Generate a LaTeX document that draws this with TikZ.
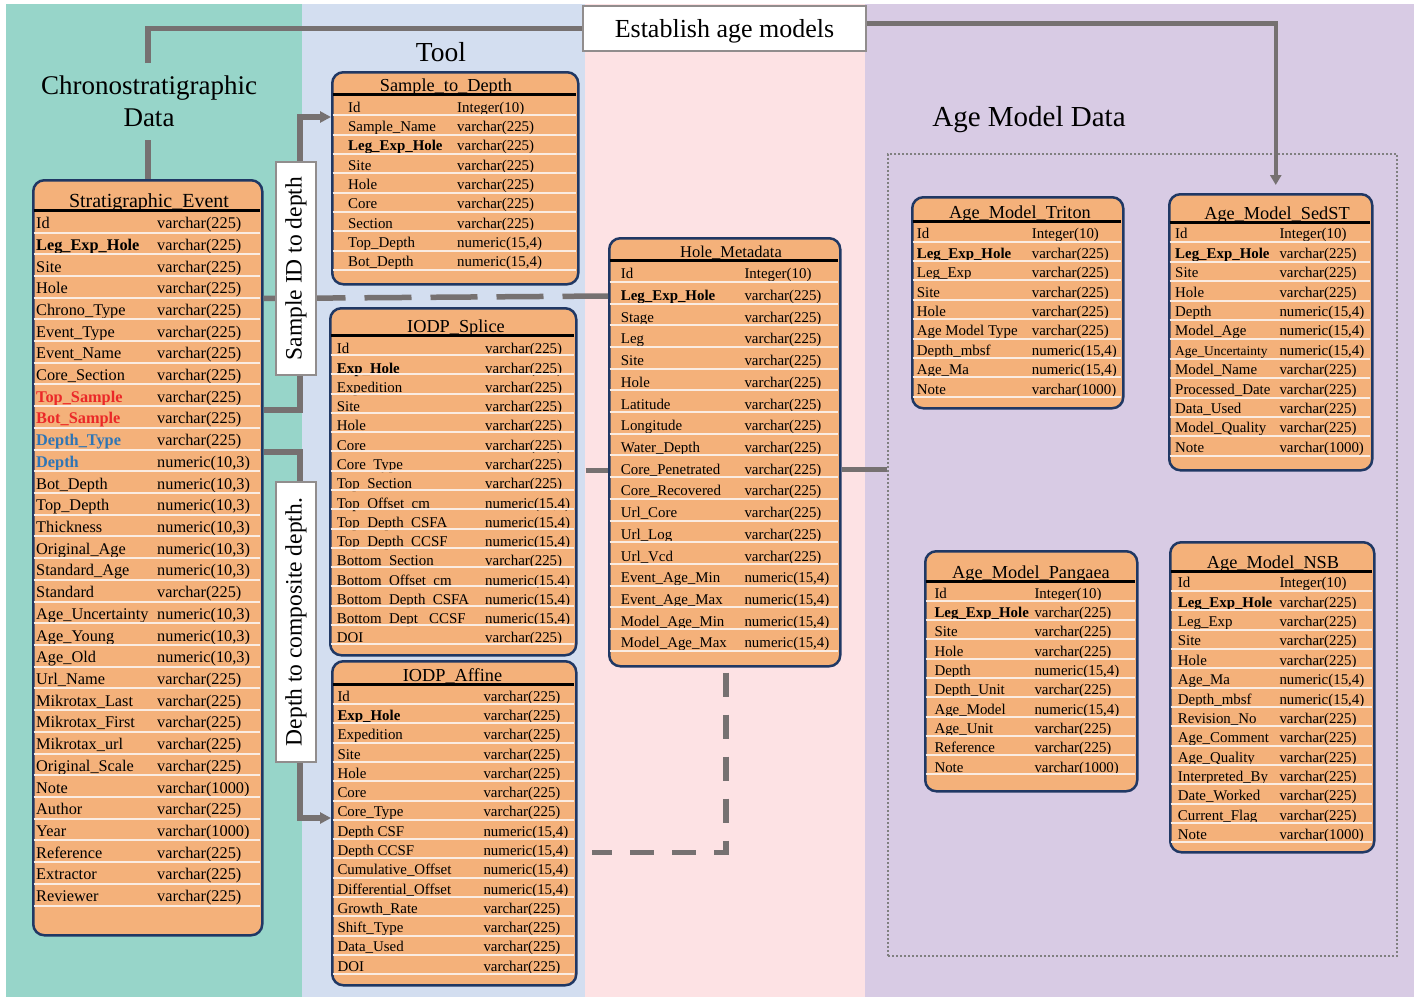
\documentclass[tikz,border=0pt]{standalone}
\usepackage{fontspec}
\setmainfont{Liberation Serif}
\usetikzlibrary{arrows.meta,calc}
\definecolor{teal1}{RGB}{151,213,201}
\definecolor{blue1}{RGB}{211,222,240}
\definecolor{pink1}{RGB}{253,226,228}
\definecolor{purp1}{RGB}{216,203,228}
\definecolor{orfill}{RGB}{244,177,122}
\definecolor{navy}{RGB}{32,56,100}
\definecolor{conng}{RGB}{118,113,113}
\definecolor{sepc}{RGB}{250,236,226}
\definecolor{redt}{RGB}{235,40,40}
\definecolor{bluet}{RGB}{46,117,182}
\newcommand\fs[1]{\fontsize{#1}{#1}\selectfont}
\def\Rf{\fs{15}}
\tikzset{
 tbl/.style={draw=navy, line width=2.5pt, fill=orfill, rounded corners=11pt, inner sep=0pt, anchor=north west},
 ttl/.style={anchor=base, inner sep=0pt},
 hdr/.style={line width=3pt, black},
 sepline/.style={line width=2pt, sepc},
 cell/.style={anchor=mid west, inner sep=0pt, font=\Rf},
 conn/.style={line width=5.5pt, conng},
 lbl/.style={draw=conng!80, line width=1.5pt, fill=white, inner sep=0pt, font=\fs{23.5}},
 tip/.style={-{Triangle[length=11pt,width=11pt]}},
}
\newcommand\tabrows[2]{%
 \foreach \na/\ty [count=\i from 0] in {#2}{%
  \pgfmathsetmacro\yy{\Ry+\i*\Rs+3.3}%
  \pgfmathsetmacro\ys{\Ry+\i*\Rs+\Ro}%
  \node[cell] (#1-n\i) at (\Nx,\yy) {\na};
  \node[cell] (#1-t\i) at (\Tx,\yy) {\ty};
  \draw[sepline] (\Lx,\ys) -- (\Rx,\ys);
 }}
\begin{document}
\begin{tikzpicture}[x=1pt,y=-1pt]
\useasboundingbox (0,0) rectangle (1420,998);
\fill[white] (0,0) rectangle (1420,998);
% panels
\fill[teal1] (6,4) rectangle (302,997);
\fill[blue1] (302,4) rectangle (585,997);
\fill[pink1] (585,4) rectangle (865,997);
\fill[purp1] (865,4) rectangle (1414,997);
% dotted frame
\node[draw=gray, line width=2pt, dash pattern=on 2pt off 2pt, minimum width=509pt, minimum height=802pt, anchor=north west, inner sep=0pt] (amd) at (887,153) {};

% ---------- Stratigraphic_Event
\node[tbl, minimum width=229pt, minimum height=755pt] (strat) at (32,179) {};
\def\Nx{36}\def\Tx{157}\def\Ry{223}\def\Rs{21.71}\def\Ro{9.5}\def\Lx{33.5}\def\Rx{259.5}\def\Rf{\fs{16.3}}
\tabrows{se}{{Id}/{varchar(225)},{\textbf{Leg\_Exp\_Hole}}/{varchar(225)},{Site}/{varchar(225)},{Hole}/{varchar(225)},{Chrono\_Type}/{varchar(225)},{Event\_Type}/{varchar(225)},{Event\_Name}/{varchar(225)},{Core\_Section}/{varchar(225)},{\textcolor{redt}{\textbf{Top\_Sample}}}/{varchar(225)},{\textcolor{redt}{\textbf{Bot\_Sample}}}/{varchar(225)},{\textcolor{bluet}{\textbf{Depth\_Type}}}/{varchar(225)},{\textcolor{bluet}{\textbf{Depth}}}/{numeric(10,3)},{Bot\_Depth}/{numeric(10,3)},{Top\_Depth}/{numeric(10,3)},{Thickness}/{numeric(10,3)},{Original\_Age}/{numeric(10,3)},{Standard\_Age}/{numeric(10,3)},{Standard}/{varchar(225)},{Age\_Uncertainty}/{numeric(10,3)},{Age\_Young}/{numeric(10,3)},{Age\_Old}/{numeric(10,3)},{Url\_Name}/{varchar(225)},{Mikrotax\_Last}/{varchar(225)},{Mikrotax\_First}/{varchar(225)},{Mikrotax\_url}/{varchar(225)},{Original\_Scale}/{varchar(225)},{Note}/{varchar(1000)},{Author}/{varchar(225)},{Year}/{varchar(1000)},{Reference}/{varchar(225)},{Extractor}/{varchar(225)},{Reviewer}/{varchar(225)}}
\node[ttl, font=\fs{20}] (se-title) at (149,207.5) {Stratigraphic\_Event};
\draw[hdr] (33.5,210) -- (259.5,210);

% ---------- Sample_to_Depth
\node[tbl, minimum width=246pt, minimum height=212pt] (std) at (331,71) {};
\def\Nx{348}\def\Tx{457}\def\Ry{106.7}\def\Rs{19.33}\def\Ro{8.7}\def\Lx{332.5}\def\Rx{575.5}\def\Rf{\fs{14.9}}
\tabrows{sd}{{Id}/{Integer(10)},{Sample\_Name}/{varchar(225)},{\textbf{Leg\_Exp\_Hole}}/{varchar(225)},{Site}/{varchar(225)},{Hole}/{varchar(225)},{Core}/{varchar(225)},{Section}/{varchar(225)},{Top\_Depth}/{numeric(15,4)},{Bot\_Depth}/{numeric(15,4)}}
\node[ttl, font=\fs{18.3}] (sd-title) at (446,91.5) {Sample\_to\_Depth};
\draw[hdr] (332.5,94.3) -- (575.5,94.3);

% ---------- IODP_Splice
\node[tbl, minimum width=246pt, minimum height=347pt] (splice) at (329,307) {};
\def\Nx{336.7}\def\Tx{485}\def\Ry{348.3}\def\Rs{19.27}\def\Ro{6.8}\def\Lx{330.5}\def\Rx{573.5}\def\Rf{\fs{14.9}}
\tabrows{sp}{{Id}/{varchar(225)},{\textbf{Exp\_Hole}}/{varchar(225)},{Expedition}/{varchar(225)},{Site}/{varchar(225)},{Hole}/{varchar(225)},{Core}/{varchar(225)},{Core\_Type}/{varchar(225)},{Top\_Section}/{varchar(225)},{Top\_Offset\_cm}/{numeric(15,4)},{Top\_Depth\_CSFA}/{numeric(15,4)},{Top\_Depth\_CCSF}/{numeric(15,4)},{Bottom\_Section}/{varchar(225)},{Bottom\_Offset\_cm}/{numeric(15,4)},{Bottom\_Depth\_CSFA}/{numeric(15,4)},{Bottom\_Dept\_ CCSF}/{numeric(15,4)},{DOI}/{varchar(225)}}
\node[ttl, font=\fs{18.3}] (sp-title) at (456,332) {IODP\_Splice};
\draw[hdr] (330.5,335) -- (573.5,335);

% ---------- IODP_Affine
\node[tbl, minimum width=244pt, minimum height=324pt] (aff) at (331,660) {};
\def\Nx{337.3}\def\Tx{483.3}\def\Ry{695.7}\def\Rs{19.28}\def\Ro{8.5}\def\Lx{332.5}\def\Rx{573.5}\def\Rf{\fs{14.9}}
\tabrows{af}{{Id}/{varchar(225)},{\textbf{Exp\_Hole}}/{varchar(225)},{Expedition}/{varchar(225)},{Site}/{varchar(225)},{Hole}/{varchar(225)},{Core}/{varchar(225)},{Core\_Type}/{varchar(225)},{Depth CSF}/{numeric(15,4)},{Depth CCSF}/{numeric(15,4)},{Cumulative\_Offset}/{numeric(15,4)},{Differential\_Offset}/{numeric(15,4)},{Growth\_Rate}/{varchar(225)},{Shift\_Type}/{varchar(225)},{Data\_Used}/{varchar(225)},{DOI}/{varchar(225)}}
\node[ttl, font=\fs{18.3}] (af-title) at (452.5,681.3) {IODP\_Affine};
\draw[hdr] (332.5,684.3) -- (573.5,684.3);

% ---------- Hole_Metadata
\node[tbl, minimum width=231pt, minimum height=428pt] (hole) at (608,237) {};
\def\Nx{620.7}\def\Tx{744.3}\def\Ry{273.3}\def\Rs{21.7}\def\Ro{8.5}\def\Lx{609.5}\def\Rx{837.5}\def\Rf{\fs{14.9}}
\tabrows{hm}{{Id}/{Integer(10)},{\textbf{Leg\_Exp\_Hole}}/{varchar(225)},{Stage}/{varchar(225)},{Leg}/{varchar(225)},{Site}/{varchar(225)},{Hole}/{varchar(225)},{Latitude}/{varchar(225)},{Longitude}/{varchar(225)},{Water\_Depth}/{varchar(225)},{Core\_Penetrated}/{varchar(225)},{Core\_Recovered}/{varchar(225)},{Url\_Core}/{varchar(225)},{Url\_Log}/{varchar(225)},{Url\_Vcd}/{varchar(225)},{Event\_Age\_Min}/{numeric(15,4)},{Event\_Age\_Max}/{numeric(15,4)},{Model\_Age\_Min}/{numeric(15,4)},{Model\_Age\_Max}/{numeric(15,4)}}
\node[ttl, font=\fs{16.5}] (hm-title) at (731,257) {Hole\_Metadata};
\draw[hdr] (609.5,260) -- (837.5,260);

% ---------- Age_Model_Triton
\node[tbl, minimum width=211pt, minimum height=211pt] (triton) at (911,196) {};
\def\Nx{916.7}\def\Tx{1031.7}\def\Ry{233.3}\def\Rs{19.4}\def\Ro{8.3}\def\Lx{912.5}\def\Rx{1120.5}\def\Rf{\fs{14.9}}
\tabrows{tr}{{Id}/{Integer(10)},{\textbf{Leg\_Exp\_Hole}}/{varchar(225)},{Leg\_Exp}/{varchar(225)},{Site}/{varchar(225)},{Hole}/{varchar(225)},{Age Model Type}/{varchar(225)},{Depth\_mbsf}/{numeric(15,4)},{Age\_Ma}/{numeric(15,4)},{Note}/{varchar(1000)}}
\node[ttl, font=\fs{18.3}] (tr-title) at (1020,218.7) {Age\_Model\_Triton};
\draw[hdr] (912.5,221.7) -- (1120.5,221.7);

% ---------- Age_Model_SedST
\node[tbl, minimum width=203pt, minimum height=276pt] (sedst) at (1168,193) {};
\def\Nx{1175}\def\Tx{1279.3}\def\Ry{233.3}\def\Rs{19.4}\def\Ro{9}\def\Lx{1169.5}\def\Rx{1369.5}\def\Rf{\fs{14.9}}
\tabrows{ss}{{Id}/{Integer(10)},{\textbf{Leg\_Exp\_Hole}}/{varchar(225)},{Site}/{varchar(225)},{Hole}/{varchar(225)},{Depth}/{numeric(15,4)},{Model\_Age}/{numeric(15,4)},{\fs{13.4}Age\_Uncertainty}/{numeric(15,4)},{Model\_Name}/{varchar(225)},{Processed\_Date}/{varchar(225)},{Data\_Used}/{varchar(225)},{Model\_Quality}/{varchar(225)},{Note}/{varchar(1000)}}
\node[ttl, font=\fs{18.3}] (ss-title) at (1277,219.7) {Age\_Model\_SedST};
\draw[hdr] (1169.5,222.7) -- (1369.5,222.7);

% ---------- Age_Model_Pangaea
\node[tbl, minimum width=212pt, minimum height=240pt] (pang) at (924,550) {};
\def\Nx{934.3}\def\Tx{1034.3}\def\Ry{592.7}\def\Rs{19.3}\def\Ro{8}\def\Lx{925.5}\def\Rx{1134.5}\def\Rf{\fs{14.9}}
\tabrows{pg}{{Id}/{Integer(10)},{\textbf{Leg\_Exp\_Hole}}/{varchar(225)},{Site}/{varchar(225)},{Hole}/{varchar(225)},{Depth}/{numeric(15,4)},{Depth\_Unit}/{varchar(225)},{Age\_Model}/{numeric(15,4)},{Age\_Unit}/{varchar(225)},{Reference}/{varchar(225)},{Note}/{varchar(1000)}}
\node[ttl, font=\fs{18.3}] (pg-title) at (1031,578) {Age\_Model\_Pangaea};
\draw[hdr] (925.5,581) -- (1134.5,581);

% ---------- Age_Model_NSB
\node[tbl, minimum width=204pt, minimum height=310pt] (nsb) at (1169,541) {};
\def\Nx{1177.7}\def\Tx{1279.3}\def\Ry{582.3}\def\Rs{19.36}\def\Ro{8.5}\def\Lx{1170.5}\def\Rx{1371.5}\def\Rf{\fs{14.9}}
\tabrows{ns}{{Id}/{Integer(10)},{\textbf{Leg\_Exp\_Hole}}/{varchar(225)},{Leg\_Exp}/{varchar(225)},{Site}/{varchar(225)},{Hole}/{varchar(225)},{Age\_Ma}/{numeric(15,4)},{Depth\_mbsf}/{numeric(15,4)},{Revision\_No}/{varchar(225)},{Age\_Comment}/{varchar(225)},{Age\_Quality}/{varchar(225)},{Interpreted\_By}/{varchar(225)},{Date\_Worked}/{varchar(225)},{Current\_Flag}/{varchar(225)},{Note}/{varchar(1000)}}
\node[ttl, font=\fs{18.3}] (ns-title) at (1273,568.7) {Age\_Model\_NSB};
\draw[hdr] (1170.5,571.7) -- (1371.5,571.7);

% ---------- headings
\node[font=\fontsize{27}{31.7}\selectfont, align=center, inner ysep=13pt, inner xsep=2pt, anchor=north] (chrono) at (149,63) {Chronostratigraphic\\Data};
\node[font=\fs{27.5}, anchor=base] (tool) at (441,61) {Tool};
\node[font=\fs{29}, anchor=base] (amdt) at (1029,126) {Age Model Data};
\node[draw=conng!80, line width=1.5pt, fill=white, minimum width=283pt, minimum height=45pt, inner sep=0pt, text height=20pt, text depth=2pt, font=\fs{26}] (est) at (724.5,28.5) {Establish age models};

% ---------- connectors
\draw[conn] (strat.north) -- (strat.north |- chrono.south);
\draw[conn] (strat.north |- chrono.north) |- (est.west);
\draw[conn, line width=4.5pt, -{Triangle[length=10pt,width=11pt]}] (est.east |- 0,23.5) -| ([xshift=5pt,yshift=8pt]sedst.north);
\draw[conn, tip] (strat.east |- 0,410) -| (300,117) -- (std.west |- 0,117);
\draw[conn, tip] (strat.east |- 0,452) -| (300,818) -- (aff.west |- 0,818);
\draw[conn, dash pattern=on 47pt off 19pt, dash phase=31pt] (strat.east |- 0,298.5) -- (hole.west |- 0,296);
\draw[conn, dash pattern=on 24pt off 18pt, dash phase=37pt, shorten >=14pt] ([xshift=1pt]hole.south) |- (aff.east |- 0,852.3);
\draw[conn] ($(splice.east |- 0,470.5)+(8,0)$) -- (hole.west |- 0,470.5);
\draw[conn] (hole.east |- 0,469.5) -- (amd.west |- 0,469.5);

% ---------- labels
\node[lbl, rotate=90, minimum width=213pt, minimum height=40pt] (sid) at (296,268.5) {Sample ID to depth};
\node[lbl, rotate=90, minimum width=280pt, minimum height=40pt] (dcd) at (296,622) {Depth to composite depth.};
\end{tikzpicture}
\end{document}
